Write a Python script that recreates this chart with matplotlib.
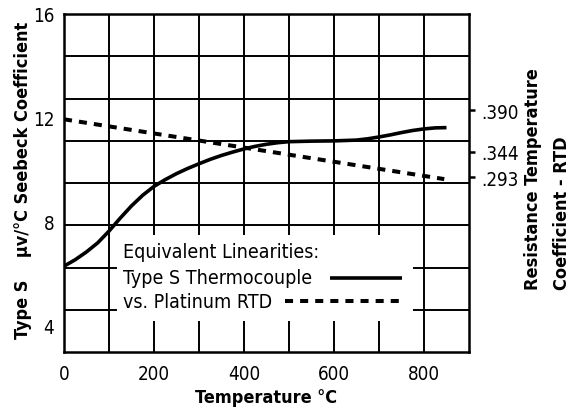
import matplotlib
matplotlib.use("Agg")
import matplotlib.pyplot as plt
import numpy as np
from matplotlib.patches import Rectangle

plt.rcParams["font.family"] = ["DejaVu Sans"]
plt.rcParams["font.stretch"] = "condensed"

# Type S thermocouple Seebeck coefficient (uV/C) vs temperature
temp_s = [0, 25, 50, 75, 100, 125, 150, 175, 200, 225, 250, 275, 300, 325, 350, 375, 400,
          425, 450, 475, 500, 550, 600, 650, 675, 700, 725, 750, 775, 800, 825, 850]
seebeck_s = [6.3, 6.55, 6.85, 7.2, 7.65, 8.15, 8.62, 9.03, 9.37, 9.63, 9.86, 10.06, 10.24,
             10.41, 10.56, 10.69, 10.81, 10.91, 10.99, 11.05, 11.09, 11.11, 11.12, 11.15,
             11.2, 11.27, 11.35, 11.44, 11.52, 11.58, 11.62, 11.63]

# platinum RTD (plotted on the left scale)
temp_rtd = [0, 845]
rtd_line = [11.95, 9.65]

x_ticks = [0, 200, 400, 600, 800]
y_ticks = [4, 8, 12, 16]
rtd_tick_pos = [12.3, 10.7, 9.73]
rtd_tick_labels = [".390", ".344", ".293"]

fig = plt.figure(figsize=(5.71, 4.10), dpi=100)
ax = fig.add_axes([64 / 571, 1 - 353 / 410, 405 / 571, 338 / 410])
ax.set_xlim(0, 900)
ax.set_ylim(3, 16)

# grid
for gx in np.arange(100, 900, 100):
    ax.axvline(gx, color="black", lw=1.4, zorder=1)
for gy in np.arange(3, 16, 1.625)[1:]:
    ax.axhline(gy, color="black", lw=1.4, zorder=1)

# legend block covering the grid
ax.add_patch(Rectangle((118, 4.2), 658, 3.3, facecolor="white", edgecolor="none", zorder=2))

ax.plot(temp_s, seebeck_s, color="black", lw=2.6, solid_capstyle="butt", zorder=3)
ax.plot(temp_rtd, rtd_line, color="black", lw=2.9, dashes=(2.0, 1.75),
        dash_capstyle="butt", zorder=3)

ax.text(132, 6.85, "Equivalent Linearities:", fontsize=14, va="center", zorder=4)
ax.text(132, 5.85, "Type S Thermocouple", fontsize=14, va="center", zorder=4)
ax.text(132, 4.95, "vs. Platinum RTD", fontsize=14, va="center", zorder=4)
ax.plot([592, 752], [5.85, 5.85], color="black", lw=2.6, solid_capstyle="butt", zorder=4)
ax.plot([492, 752], [4.97, 4.97], color="black", lw=2.9, dashes=(2.0, 1.75),
        dash_capstyle="butt", zorder=4)

ax.set_xticks(x_ticks)
ax.set_yticks(y_ticks)
ax.tick_params(axis="both", length=0, labelsize=13.5)
ax.tick_params(axis="x", pad=9)
ax.tick_params(axis="y", pad=7)
for sp in ax.spines.values():
    sp.set_linewidth(1.8)

fig.text(266 / 571, 1 - 398 / 410, "Temperature °C", fontsize=13, fontweight="bold",
         ha="center", va="center")
fig.text(23 / 571, 1 - 180 / 410, "Type S    µv/°C Seebeck Coefficient", fontsize=13,
         fontweight="bold", rotation=90, ha="center", va="center")

ax2 = ax.twinx()
ax2.set_ylim(3, 16)
ax2.set_yticks(rtd_tick_pos)
ax2.set_yticklabels(rtd_tick_labels)
ax2.tick_params(axis="y", length=4, width=1.8, labelsize=13.5, pad=5)
for sp in ax2.spines.values():
    sp.set_visible(False)

fig.text(533 / 571, 1 - 290 / 410, "Resistance Temperature", rotation=90, fontsize=13,
         fontweight="bold", ha="center", va="bottom")
fig.text(562 / 571, 1 - 290 / 410, "Coefficient - RTD", rotation=90, fontsize=13,
         fontweight="bold", ha="center", va="bottom")

fig.savefig("out.png", dpi=100)
